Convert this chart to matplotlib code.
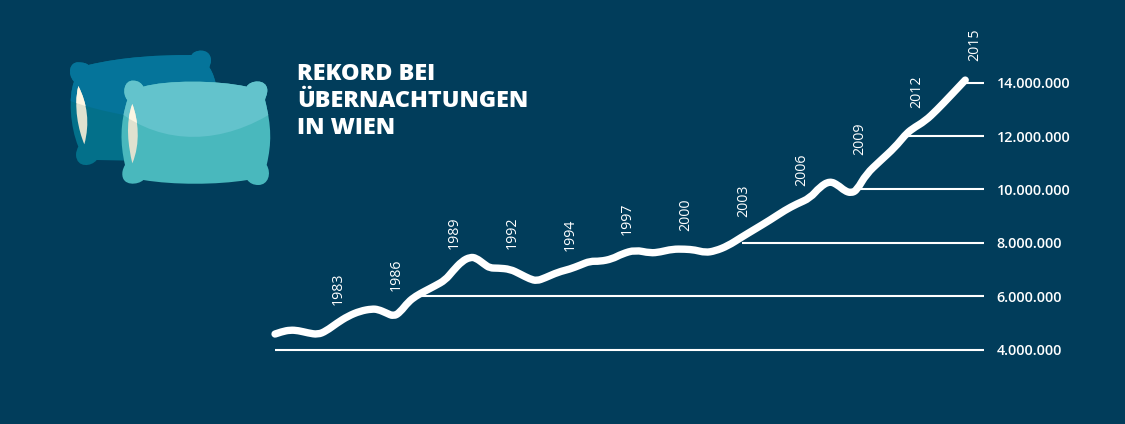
import numpy as np
import matplotlib as mpl
import matplotlib.pyplot as plt
from matplotlib.path import Path
from matplotlib.patches import PathPatch

plt.rcParams["font.family"] = "Open Sans"

sFilename_png = 'out.png'
sColor_background = '#013d5b'
sColor_line = 'white'
nrow = 424
ncolumn = 1125

#===========================
#the visitor curve, x is counted in label steps from 1983, y in million overnight stays
#===========================
aX = [-1.07, -0.95, -0.81, -0.67, -0.50, -0.33, -0.19, 0.0, 0.19, 0.40, 0.60, 0.71, 0.85, 0.98, 1.09, 1.23,
      1.36, 1.52, 1.69, 1.87, 2.0, 2.16, 2.30, 2.40, 2.54, 2.64, 2.78, 2.99, 3.16, 3.33, 3.45, 3.59,
      3.82, 4.02, 4.20, 4.37, 4.54, 4.75, 4.92, 5.15, 5.41, 5.58, 5.79, 6.01, 6.18, 6.36, 6.53, 6.75,
      6.99, 7.22, 7.48, 7.74, 7.94, 8.17, 8.34, 8.51, 8.65, 8.77, 8.88, 8.98, 9.14, 9.38, 9.64, 9.81,
      9.93, 10.16, 10.36, 10.59, 10.85]
aY = [4.58, 4.67, 4.73, 4.71, 4.62, 4.56, 4.69, 4.99, 5.25, 5.44, 5.52, 5.50, 5.37, 5.24, 5.40, 5.78,
      6.0, 6.19, 6.38, 6.60, 6.94, 7.31, 7.46, 7.43, 7.20, 7.05, 7.05, 7.01, 6.83, 6.64, 6.57, 6.68,
      6.90, 7.01, 7.16, 7.31, 7.30, 7.39, 7.58, 7.73, 7.61, 7.65, 7.76, 7.76, 7.73, 7.63, 7.69, 7.88,
      8.21, 8.51, 8.85, 9.22, 9.45, 9.67, 10.09, 10.31, 10.16, 9.94, 9.86, 9.97, 10.57, 11.06, 11.58, 12.03,
      12.26, 12.56, 12.97, 13.49, 14.09]

aYear = [1983, 1986, 1989, 1992, 1994, 1997, 2000, 2003, 2006, 2009, 2012, 2015]
aLabel_y = [5.67, 6.2, 7.75, 7.77, 7.68, 8.27, 8.42, 8.97, 10.13, 11.29, 13.06, 14.81]

# gridlines: value and where each one starts
aTick = [4, 6, 8, 10, 12, 14]
aTick_start = [-1.07, 1.35, 7.0, 9.0, 9.81, 10.85]
dTick_end = 11.17

fig = plt.figure(figsize=(ncolumn / 100, nrow / 100), dpi=100, facecolor=sColor_background)

#===========================
#chart axes, limits chosen so that the curve lands where it does in the picture
#===========================
ax_dummy = fig.add_axes([0, 0, 1, 1])
ax_dummy.set_xlim(-337.0 / 57.9, (ncolumn - 337.0) / 57.9)
ax_dummy.set_ylim(4 - (nrow - 349.5) / 26.7, 4 + 349.5 / 26.7)
ax_dummy.axis('off')

for iTick in range(len(aTick)):
    ax_dummy.plot([aTick_start[iTick], dTick_end], [aTick[iTick], aTick[iTick]],
                  color=sColor_line, lw=1.5, solid_capstyle='butt', zorder=1)
    sLabel = '{:,}'.format(aTick[iTick] * 1000000).replace(',', '.')
    ax_dummy.text(dTick_end + 13.0 / 57.9, aTick[iTick] - 0.06, sLabel, color=sColor_line,
                  fontsize=10.4, fontweight='semibold', ha='left', va='center')

# data points act as control points of a quadratic curve, so the line stays smooth
aXy = np.column_stack([aX, aY])
aMid = (aXy[1:-2] + aXy[2:-1]) / 2.0
aVertex_line = [aXy[0]]
for iPoint in range(len(aMid)):
    aVertex_line += [aXy[iPoint + 1], aMid[iPoint]]
aVertex_line += [aXy[-2], aXy[-1]]
aCode_line = [Path.MOVETO] + [Path.CURVE3] * (len(aVertex_line) - 1)
ax_dummy.add_patch(PathPatch(Path(aVertex_line, aCode_line), facecolor='none', edgecolor=sColor_line,
                             lw=5.3, capstyle='round', joinstyle='round', zorder=2))

for iYear in range(len(aYear)):
    ax_dummy.text(iYear + 0.02, aLabel_y[iYear], str(aYear[iYear]), color=sColor_line, fontsize=10.2,
                  fontweight='medium', rotation=90, ha='center', va='bottom')

ax_dummy.text(297.0 / 57.9 - 337.0 / 57.9, 4 + (349.5 - 101) / 26.7, 'REKORD BEI\nÜBERNACHTUNGEN\nIN WIEN',
              color=sColor_line, fontsize=16.8, fontweight=800, ha='left', va='center', linespacing=1.17)

#===========================
#pillows, drawn in pixels of the picture
#===========================
ax_icon = fig.add_axes([0, 0, 1, 1])
ax_icon.set_xlim(0, ncolumn)
ax_icon.set_ylim(nrow, 0)
ax_icon.axis('off')

def crop_path(aVertex, aCode):
    aXy = np.array(aVertex, dtype=float) / 3.0 + np.array([50.0, 30.0])
    return Path(aXy, aCode)

M, C, L, Z = Path.MOVETO, Path.CURVE4, Path.LINETO, Path.CLOSEPOLY
aCode_back = [M] + [C] * 3 + [C] * 6 + [C] * 3 + [L] * 2 + [C] * 6 + [C] * 3 + [C] * 6 + [Z]
aVertex_back = [(115, 105), (220, 80), (330, 75), (425, 75),
                (430, 60), (480, 50), (483, 90), (483, 100), (478, 110), (478, 112),
                (490, 130), (495, 150), (497, 160),
                (400, 395), (140, 390),
                (125, 410), (80, 415), (78, 375), (78, 365), (82, 355), (85, 350),
                (60, 290), (55, 200), (72, 155),
                (50, 130), (60, 95), (85, 97), (100, 97), (110, 100), (115, 105), (115, 105)]
aCode_front = [M] + [C] * 3 + [C] * 6 + [C] * 3 + [C] * 6 + [C] * 3 + [C] * 6 + [C] * 3 + [C] * 6 + [Z]
aVertex_front = [(280, 170), (350, 150), (500, 150), (590, 170),
                 (600, 150), (650, 145), (652, 180), (652, 195), (645, 205), (645, 210),
                 (665, 290), (665, 340), (650, 405),
                 (665, 430), (655, 465), (625, 465), (610, 465), (600, 460), (592, 450),
                 (500, 465), (370, 465), (280, 450),
                 (265, 465), (215, 470), (217, 430), (217, 420), (222, 410), (225, 405),
                 (210, 340), (210, 280), (232, 210),
                 (215, 190), (222, 150), (250, 152), (265, 152), (275, 160), (280, 170), (280, 170)]
aCode_shade = [M, C, C, C, L, L, Z]

# each pillow: outline, lower colour, upper colour, fold curve, leaf
aPillow = [
    (aVertex_back, aCode_back, '#03708a', '#05749a',
     [(40, 205), (150, 250), (300, 270), (520, 300), (520, 40), (40, 40), (40, 205)],
     [(85, 168), (70, 230), (85, 300), (103, 343), (120, 280), (112, 220), (85, 168), (85, 168)]),
    (aVertex_front, aCode_front, '#49b8bd', '#63c3cc',
     [(200, 240), (340, 350), (520, 345), (680, 240), (680, 130), (200, 130), (200, 240)],
     [(247, 222), (225, 280), (235, 350), (247, 400), (272, 340), (265, 270), (247, 222), (247, 222)]),
]
aCode_leaf = [M] + [C] * 6 + [Z]

for iPillow in range(len(aPillow)):
    aVertex, aCode, sColor_low, sColor_up, aFold, aLeaf = aPillow[iPillow]
    pPath = crop_path(aVertex, aCode)
    pPillow = PathPatch(pPath, facecolor=sColor_low, edgecolor='none', zorder=3 + iPillow)
    ax_icon.add_patch(pPillow)
    pUp = PathPatch(crop_path(aFold, aCode_shade), facecolor=sColor_up, edgecolor='none', zorder=3 + iPillow)
    ax_icon.add_patch(pUp)
    pUp.set_clip_path(pPillow)
    # leaf is bright above the fold and muted under it
    pLeaf = PathPatch(crop_path(aLeaf, aCode_leaf), facecolor='#dfe1cf', edgecolor='none', zorder=3 + iPillow)
    ax_icon.add_patch(pLeaf)
    pTop = PathPatch(crop_path(aFold, aCode_shade), facecolor='#fdf6e3', edgecolor='none', zorder=3 + iPillow)
    ax_icon.add_patch(pTop)
    pTop.set_clip_path(crop_path(aLeaf, aCode_leaf), ax_icon.transData)

# Save the figure
fig.savefig(sFilename_png, dpi=100, facecolor=sColor_background)
